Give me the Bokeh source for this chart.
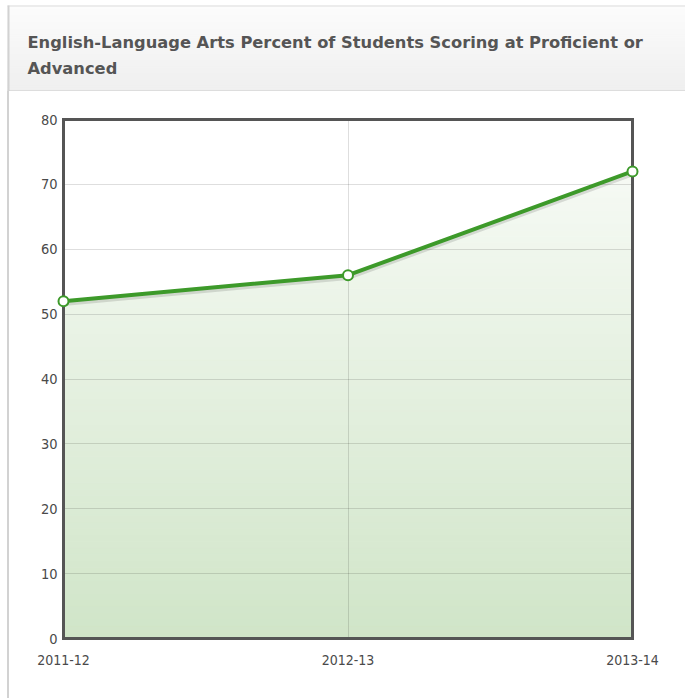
from bokeh.plotting import figure
from bokeh.models import Range1d, FixedTicker, Spacer, LinearAxis
from bokeh.layouts import column, row
from bokeh.embed import file_html
from bokeh.resources import INLINE
from bokeh.core.properties import value
import numpy as np

# ---- data ----
TITLE_LINES = ["English-Language Arts Percent of Students Scoring at Proficient or",
               "Advanced"]
years = ["2011-12", "2012-13", "2013-14"]
pct = [52, 56, 72]
y_ticks = [0, 10, 20, 30, 40, 50, 60, 70, 80]
y_min, y_max = 0, 80

GREEN = "#3d9a2a"
FRAME = "#555555"
LABEL_FONT = "DejaVu Sans Condensed"


def mix(c1, c2, t):
    return "#%02x%02x%02x" % tuple(int(round(a + (b - a) * t)) for a, b in zip(c1, c2))


# ---- header panel ----
HW, HH = 685, 91
PT, PL = 5, 7  # panel top / left
hdr = figure(width=HW, height=HH, x_range=Range1d(0, HW), y_range=Range1d(HH, 0),
             output_backend="svg", toolbar_location=None, min_border=0,
             x_axis_location=None, y_axis_location=None)
hdr.grid.visible = False
hdr.outline_line_color = None
hdr.background_fill_color = "white"
hdr.border_fill_color = "white"

nb = 40
edges = np.linspace(PT, HH - 1, nb + 1)
hcols = [mix((252, 252, 252), (239, 239, 239), i / (nb - 1)) for i in range(nb)]
hdr.quad(left=PL, right=HW, top=edges[:-1], bottom=edges[1:],
         fill_color=hcols, line_color=hcols, line_width=1)
hdr.quad(left=PL, right=HW, top=PT, bottom=PT + 1, fill_color="#dcdcdc", line_color=None)
hdr.quad(left=PL, right=HW, top=HH - 1, bottom=HH, fill_color="#cccccc", line_color=None)
hdr.quad(left=PL, right=PL + 2, top=PT, bottom=HH, fill_color="#d2d2d2", line_color=None)
hdr.text(x=[27, 27], y=[42, 68], text=TITLE_LINES,
         text_font=value("DejaVu Sans"), text_font_style="bold",
         text_font_size="16.3px", text_color="#555555", text_baseline="alphabetic")

# ---- chart ----
CW, CH = 676, 607
idx = list(range(len(years)))
p = figure(width=CW, height=CH,
           x_range=Range1d(idx[0], idx[-1]), y_range=Range1d(y_min, y_max),
           output_backend="svg", toolbar_location=None,
           min_border_left=54, min_border_right=53,
           min_border_top=28, min_border_bottom=60)
p.background_fill_color = "white"
p.border_fill_color = "white"
p.outline_line_color = None

# gradient fill under the line: full-height bands, then white above the series
nbands = 80
bedges = np.linspace(y_min, y_max, nbands + 1)
bcols = [mix((208, 229, 200), (250, 252, 249), (i + 0.5) / nbands) for i in range(nbands)]
p.quad(left=idx[0], right=idx[-1], bottom=bedges[:-1], top=bedges[1:],
       fill_color=bcols, line_color=bcols, line_width=1, level="image")
p.varea(x=idx, y1=pct, y2=y_max, fill_color="white", level="image")

# grid
p.xgrid.ticker = FixedTicker(ticks=idx)
p.ygrid.ticker = FixedTicker(ticks=y_ticks)
p.grid.grid_line_color = "#000000"
p.grid.grid_line_alpha = 0.13
p.grid.grid_line_width = 1

# series
p.line(x=idx, y=[v - 0.35 for v in pct], line_color="#000000", line_alpha=0.12, line_width=5)
p.line(x=idx, y=pct, line_color=GREEN, line_width=4)
p.scatter(x=idx, y=pct, size=10, fill_color="white", line_color=GREEN, line_width=2,
          level="overlay")

# frame drawn by four axis lines
p.add_layout(LinearAxis(major_label_text_font_size="0px"), "above")
p.add_layout(LinearAxis(major_label_text_font_size="0px"), "right")

for ax in p.axis:
    ax.axis_line_color = FRAME
    ax.axis_line_width = 3
    ax.axis_line_cap = "square"
    ax.major_tick_line_color = None
    ax.minor_tick_line_color = None
    ax.major_tick_out = 0
    ax.major_tick_in = 0
    ax.minor_tick_out = 0
    ax.minor_tick_in = 0

xax = p.below[0]
yax = p.left[0]
for ax in (xax, yax):
    ax.major_label_text_font = LABEL_FONT
    ax.major_label_text_color = "#4a4a4a"

xax.ticker = FixedTicker(ticks=idx)
xax.major_label_overrides = {i: y for i, y in zip(idx, years)}
xax.major_label_text_font_size = "14px"
xax.major_label_standoff = 16
yax.ticker = FixedTicker(ticks=y_ticks)
yax.major_label_text_font_size = "14.5px"
yax.major_label_standoff = 6
p.above[0].ticker = FixedTicker(ticks=[])
p.right[0].ticker = FixedTicker(ticks=[])

gap = Spacer(width=PL, height=CH)
left_border = Spacer(width=2, height=CH, styles={"background-color": "#d2d2d2"})

layout = column(hdr, row(gap, left_border, p))
open("out.html", "w").write(file_html(layout, INLINE))
